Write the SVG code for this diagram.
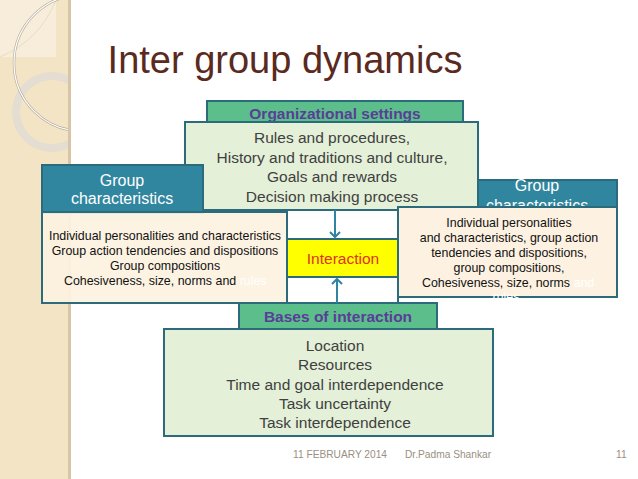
<svg xmlns="http://www.w3.org/2000/svg" width="638" height="479" viewBox="0 0 638 479">
<defs>
<style>
.t{font-family:"Liberation Sans",Arial,sans-serif;text-anchor:middle}
.hdr{fill:#5cbf8b;stroke:#2b6b7b;stroke-width:2}
.gbody{fill:#e4f0d8;stroke:#2b6b7b;stroke-width:2}
.teal{fill:#31869f;stroke:#2b6b7b;stroke-width:2}
.cream{fill:#fdf2e1;stroke:#2b6b7b;stroke-width:2}
.bt{font-size:15.5px;fill:#404040}
.ht{font-size:15.5px;font-weight:bold;fill:#5a3d98}
.wt{font-size:16px;fill:#ffffff}
.st{font-size:12.4px;fill:#111111}
.conn{stroke:#2e84a3;stroke-width:2;fill:none}
</style>
<marker id="arr" markerWidth="12" markerHeight="12" refX="6" refY="6" orient="auto" markerUnits="userSpaceOnUse">
<polyline points="1,1 6,6 1,11" fill="none" stroke="#2e84a3" stroke-width="2"/>
</marker>
<clipPath id="stripe"><rect x="0" y="0" width="69" height="479"/></clipPath>
</defs>
<rect width="638" height="479" fill="#ffffff"/>
<g id="decor">
<rect x="0" y="0" width="70" height="479" fill="#f3e4c5"/>
<rect x="0" y="0" width="56" height="57" fill="#f7edda"/>
<g clip-path="url(#stripe)">
<path d="M56,0 Q40,40 0,57" fill="none" stroke="#e8dcc4" stroke-width="1"/>
<circle cx="52" cy="112" r="36" fill="none" stroke="#e3ddd2" stroke-width="8"/>
<circle cx="82" cy="63" r="68" fill="none" stroke="#b7ab98" stroke-width="2.5"/>
<circle cx="82" cy="63" r="68" fill="none" stroke="#ffffff" stroke-width="1.2"/>
</g>
<rect x="68" y="0" width="3" height="479" fill="#d6c6a6"/>
</g>
<text class="t" x="285" y="73" style="font-size:38px;fill:#5a2a1f">Inter group dynamics</text>
<g id="right-group-header">
<rect class="teal" x="457" y="180" width="160" height="30"/>
<text class="t wt" x="537" y="191">Group</text>
<text class="t wt" x="537" y="211">characteristics</text>
</g>
<g id="frame">
<rect x="287" y="210" width="111" height="97" fill="#ffffff" stroke="#2b6b7b" stroke-width="2"/>
</g>
<g id="organizational-settings">
<rect class="hdr" x="207" y="101" width="256" height="24"/>
<text class="t ht" x="335" y="119">Organizational settings</text>
<rect class="gbody" x="185" y="122" width="293" height="88"/>
<text class="t bt" x="332" y="143">Rules and procedures,</text>
<text class="t bt" x="332" y="163">History and traditions and culture,</text>
<text class="t bt" x="332" y="182">Goals and rewards</text>
<text class="t bt" x="332" y="202">Decision making process</text>
</g>
<g id="left-group">
<rect class="teal" x="42" y="165" width="161" height="48"/>
<text class="t wt" x="122" y="186">Group</text>
<text class="t wt" x="122" y="204">characteristics</text>
<rect class="cream" x="42" y="212" width="245" height="91" fill-opacity="0.92"/>
<text class="t st" x="165" y="240">Individual personalities and characteristics</text>
<text class="t st" x="165" y="255">Group action tendencies and dispositions</text>
<text class="t st" x="165" y="270">Group compositions</text>
<text class="st" x="64" y="285" style="font-family:'Liberation Sans',Arial,sans-serif">Cohesiveness, size, norms and <tspan fill="#ffffff">rules</tspan></text>
</g>
<g id="right-group">
<rect class="cream" x="398" y="207" width="219" height="90"/>
<text class="t st" x="509" y="227">Individual personalities</text>
<text class="t st" x="509" y="242">and characteristics, group action</text>
<text class="t st" x="509" y="257">tendencies and dispositions,</text>
<text class="t st" x="509" y="272">group compositions,</text>
<text class="st" x="422" y="287" style="font-family:'Liberation Sans',Arial,sans-serif">Cohesiveness, size, norms <tspan fill="#ffffff">and</tspan></text>
<text class="t st" x="506" y="301" fill="#ffffff" style="fill:#ffffff">rules</text>
</g>
<g id="interaction">
<rect x="287" y="239" width="111" height="38" fill="#ffff00" stroke="#2b6b7b" stroke-width="2"/>
<text class="t" x="343" y="264" style="font-size:15.5px;fill:#e0321c">Interaction</text>
</g>
<g id="bases-of-interaction">
<rect class="hdr" x="239" y="303" width="198" height="27"/>
<text class="t ht" x="338" y="322">Bases of interaction</text>
<rect class="gbody" x="164" y="329" width="329" height="107"/>
<text class="t bt" x="335" y="351">Location</text>
<text class="t bt" x="335" y="370">Resources</text>
<text class="t bt" x="335" y="390">Time and goal interdependence</text>
<text class="t bt" x="335" y="409">Task uncertainty</text>
<text class="t bt" x="335" y="428">Task interdependence</text>
</g>
<g id="connectors">
<line class="conn" x1="335" y1="210" x2="335" y2="237" marker-end="url(#arr)"/>
<line class="conn" x1="337" y1="303" x2="337" y2="279" marker-end="url(#arr)"/>
</g>
<g id="footer" style="font-family:'Liberation Sans',Arial,sans-serif;font-size:10.2px;fill:#9a8f80">
<text x="293" y="458">11 FEBRUARY 2014</text>
<text x="405" y="458">Dr.Padma Shankar</text>
<text x="616" y="458">11</text>
</g>
</svg>
